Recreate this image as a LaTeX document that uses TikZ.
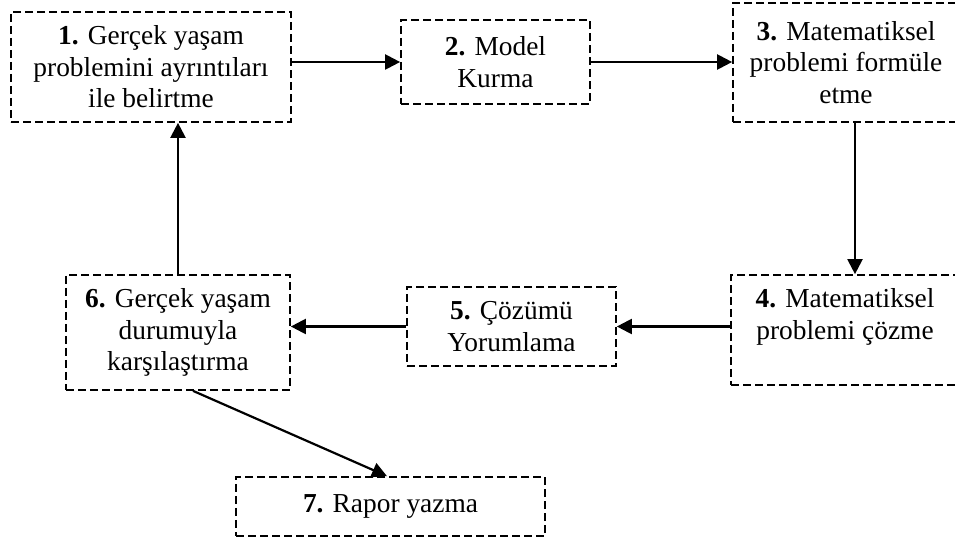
\documentclass[tikz,border=0pt]{standalone}
\usepackage{fontspec}
\setmainfont{Liberation Serif}
\usetikzlibrary{arrows.meta}
\begin{document}
\begin{tikzpicture}[x=0.5pt,y=-0.5pt,
  stepbox/.style={draw, line width=0.85pt, dash pattern=on 4pt off 2pt,
    align=center, inner sep=0pt, font=\fontsize{13.7pt}{15.8pt}\selectfont},
  flow/.style={line width=1.1pt, -{Triangle[length=7.5pt,width=7.5pt]}}]
\useasboundingbox (0,0) rectangle (955,540);
\clip (0,0) rectangle (955,540);

% process steps
\node[stepbox, minimum width=140pt, minimum height=55pt] (b1) at (151,67)
  {\textbf{1.} Gerçek yaşam\\problemini ayrıntıları\\ile belirtme};
\node[stepbox, minimum width=94.5pt, minimum height=42pt] (b2) at (495.5,62)
  {\textbf{2.} Model\\Kurma};
\node[stepbox, minimum width=113pt, minimum height=59.5pt] (b3) at (846,62.5)
  {\textbf{3.} Matematiksel\\problemi formüle\\etme};
\node[stepbox, minimum width=114pt, minimum height=55pt] (b4) at (845,330)
  {\textbf{4.} Matematiksel\\problemi çözme\\\mbox{}};
\node[stepbox, minimum width=104.5pt, minimum height=39.5pt] (b5) at (511.5,326.5)
  {\textbf{5.} Çözümü\\Yorumlama};
\node[stepbox, minimum width=112pt, minimum height=57.5pt] (b6) at (178,332.5)
  {\textbf{6.} Gerçek yaşam\\durumuyla\\karşılaştırma};
\node[stepbox, minimum width=154.5pt, minimum height=29.5pt] (b7) at (390.5,506.5)
  {\textbf{7.} Rapor yazma};

% connectors
\draw[flow] (b1.east |- b2.west) -- (b2.west);
\draw[flow] (b2.east) -- (b2.east -| b3.west);
\draw[flow] ([xshift=4.5pt]b3.south) -- ([xshift=4.5pt]b3.south |- b4.north);
\draw[flow] (b5.east -| b4.west) -- (b5.east);
\draw[flow] (b5.west) -- (b5.west -| b6.east);
\draw[flow] (b6.north) -- (b6.north |- b1.south);
\draw[flow] ([xshift=7.5pt]b6.south) -- ([xshift=-1.75pt]b7.north);
\end{tikzpicture}
\end{document}
